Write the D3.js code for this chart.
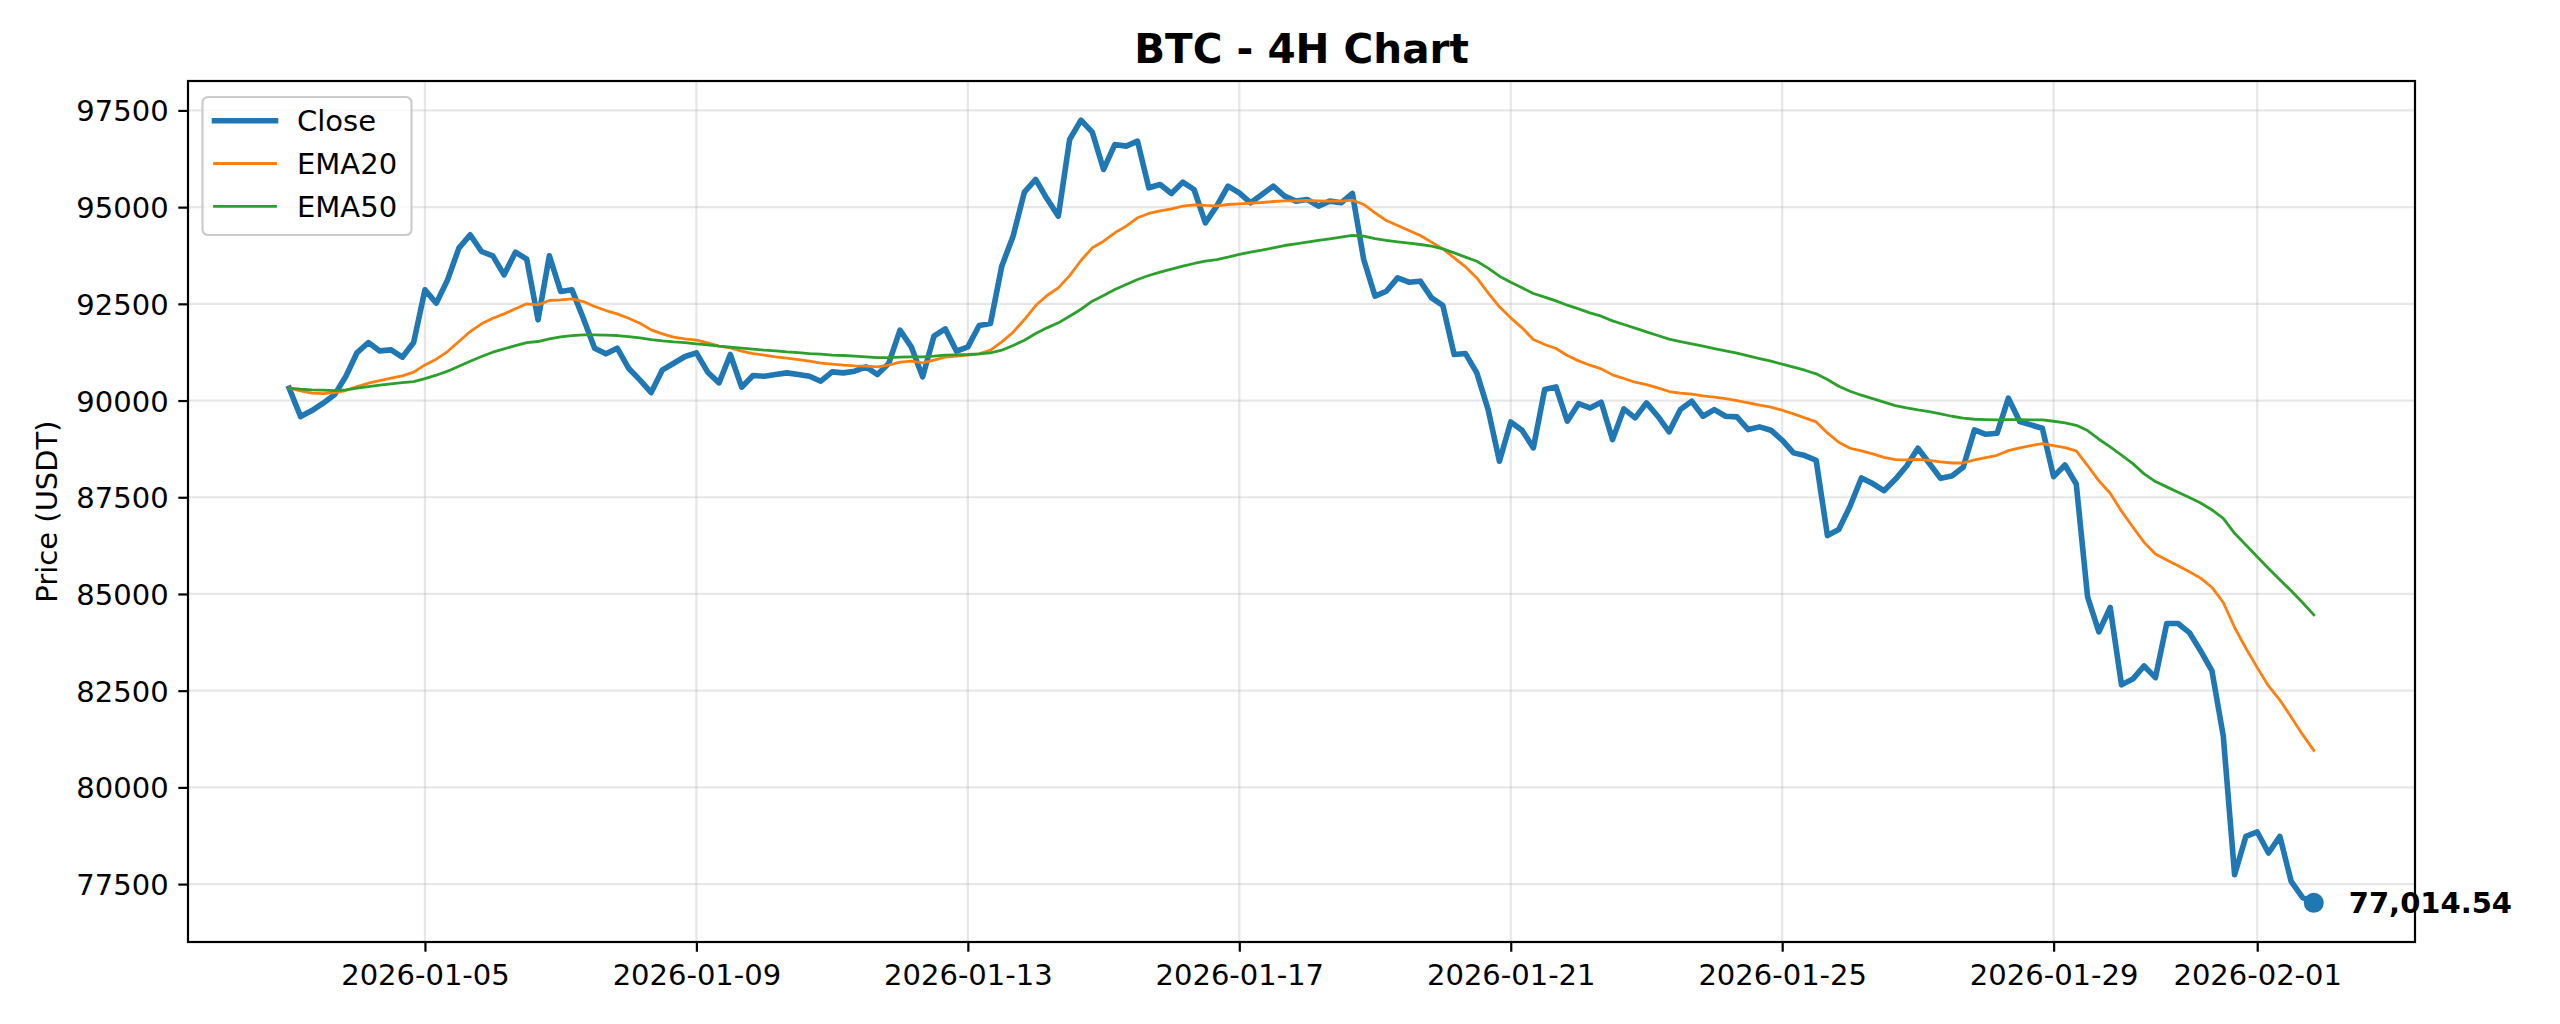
<!DOCTYPE html>
<html>
<head>
<meta charset="utf-8">
<script src="https://cdn.jsdelivr.net/npm/d3@7"></script>
<style>
  html, body { margin: 0; padding: 0; background: #ffffff; }
  svg { display: block; font-family: "DejaVu Sans", sans-serif; }
</style>
</head>
<body>
<div id="chart"></div>
<script>
// ---------------- data ----------------
const chartTitle = "BTC - 4H Chart";
const yLabel = "Price (USDT)";
const startTime = "2026-01-03T00:00:00Z";   // first 4H bar
const barHours = 4;

const closeValues = [
  90319, 89586, 89741, 89931, 90147, 90621, 91241, 91500, 91284, 91310,
  91121, 91500, 92862, 92517, 93120, 93939, 94284, 93853, 93741, 93250,
  93836, 93655, 92086, 93741, 92819, 92862, 92129, 91353, 91207, 91353,
  90836, 90534, 90207, 90793, 90965, 91138, 91233, 90733, 90457, 91190,
  90345, 90647, 90629, 90672, 90715, 90672, 90629, 90500, 90741, 90715,
  90759, 90871, 90672, 90957, 91819, 91388, 90612, 91664, 91853, 91276,
  91388, 91940, 91991, 93474, 94250, 95388, 95715, 95215, 94767, 96749,
  97249, 96939, 95974, 96620, 96577, 96706, 95500, 95586, 95353, 95646,
  95456, 94595, 95025, 95543, 95370, 95112, 95327, 95543, 95284, 95155,
  95198, 95025, 95155, 95112, 95353, 93646, 92698, 92827, 93172, 93060,
  93086, 92655, 92457, 91190, 91215, 90715, 89767, 88431, 89448, 89233,
  88776, 90284, 90353, 89466, 89922, 89810, 89957, 88991, 89784, 89552,
  89940, 89595, 89190, 89767, 89983, 89595, 89767, 89595, 89578, 89250,
  89319, 89233, 88974, 88647, 88578, 88457, 86509, 86664, 87267, 88000,
  87854, 87670, 87963, 88308, 88766, 88378, 87989, 88050, 88274, 89241,
  89128, 89154, 90060, 89456, 89370, 89284, 88032, 88334, 87842, 84926,
  84020, 84650, 82650, 82800, 83139, 82837, 84236, 84236, 84002, 83527,
  83009, 81325, 77741, 78734, 78847, 78303, 78734, 77569, 77154, 77014.54
];

const ema20Values = [
  90319, 90249, 90190, 90181, 90207, 90259, 90362, 90448, 90517, 90578,
  90638, 90733, 90922, 91069, 91267, 91526, 91784, 91983, 92129, 92241,
  92371, 92500, 92474, 92586, 92603, 92629, 92560, 92431, 92327, 92241,
  92129, 92000, 91827, 91724, 91638, 91595, 91560, 91491, 91405, 91362,
  91276, 91215, 91172, 91129, 91095, 91060, 91017, 90965, 90940, 90914,
  90896, 90888, 90871, 90914, 90991, 91017, 90974, 91043, 91121, 91147,
  91172, 91207, 91302, 91517, 91767, 92095, 92457, 92715, 92914, 93230,
  93620, 93948, 94120, 94336, 94508, 94724, 94836, 94905, 94957, 95025,
  95060, 95043, 95034, 95068, 95086, 95103, 95120, 95146, 95163, 95163,
  95172, 95163, 95155, 95155, 95181, 95069, 94853, 94655, 94526, 94396,
  94267, 94095, 93922, 93689, 93457, 93170, 92784, 92422, 92138, 91879,
  91577, 91448, 91345, 91164, 91026, 90914, 90819, 90664, 90569, 90474,
  90414, 90328, 90233, 90190, 90164, 90121, 90086, 90052, 90000, 89940,
  89879, 89828, 89750, 89655, 89552, 89448, 89164, 88922, 88767, 88698,
  88621, 88530, 88472, 88464, 88481, 88455, 88412, 88386, 88386, 88464,
  88524, 88585, 88706, 88775, 88835, 88887, 88835, 88783, 88697, 88320,
  87925, 87605, 87140, 86730, 86334, 86032, 85876, 85730, 85574, 85410,
  85168, 84780, 84132, 83597, 83096, 82621, 82258, 81818, 81369, 80954
];

const ema50Values = [
  90319, 90293, 90276, 90267, 90259, 90276, 90319, 90362, 90397, 90431,
  90465, 90491, 90569, 90655, 90759, 90888, 91017, 91138, 91250, 91336,
  91422, 91500, 91526, 91595, 91646, 91681, 91698, 91698, 91690, 91681,
  91655, 91621, 91577, 91543, 91517, 91500, 91465, 91440, 91405, 91379,
  91353, 91327, 91302, 91284, 91259, 91241, 91215, 91198, 91172, 91164,
  91147, 91129, 91112, 91112, 91121, 91129, 91129, 91147, 91172, 91181,
  91190, 91207, 91233, 91302, 91422, 91560, 91733, 91879, 92009, 92181,
  92360, 92569, 92715, 92870, 93000, 93129, 93233, 93319, 93396, 93474,
  93543, 93603, 93646, 93707, 93776, 93836, 93888, 93948, 94008, 94051,
  94095, 94138, 94181, 94224, 94267, 94250, 94189, 94138, 94103, 94069,
  94034, 93991, 93922, 93819, 93707, 93600, 93422, 93215, 93060, 92914,
  92767, 92672, 92577, 92465, 92370, 92267, 92181, 92060, 91965, 91871,
  91776, 91681, 91586, 91526, 91465, 91405, 91345, 91284, 91224, 91155,
  91086, 91017, 90940, 90862, 90784, 90690, 90543, 90371, 90241, 90138,
  90052, 89960, 89871, 89810, 89758, 89715, 89655, 89594, 89543, 89517,
  89508, 89500, 89508, 89508, 89500, 89500, 89465, 89422, 89361, 89223,
  89000, 88800, 88590, 88370, 88105, 87906, 87768, 87630, 87491, 87353,
  87172, 86956, 86567, 86265, 85963, 85660, 85367, 85082, 84780, 84460
];

const seriesNames = ["Close", "EMA20", "EMA50"];
const xTickLabels = ["2026-01-05", "2026-01-09", "2026-01-13", "2026-01-17",
                     "2026-01-21", "2026-01-25", "2026-01-29", "2026-02-01"];
const yTickValues = [77500, 80000, 82500, 85000, 87500, 90000, 92500, 95000, 97500];

// ---------------- layout ----------------
const W = 2560, H = 1024;
const plot = { left: 188, top: 81, right: 2415, bottom: 942 };
const colors = { Close: "#1f77b4", EMA20: "#ff7f0e", EMA50: "#2ca02c" };
const widths = { Close: 5.6, EMA20: 2.8, EMA50: 2.8 };
const fontPx = 29;

const t0 = new Date(startTime).getTime();
const times = closeValues.map((_, i) => new Date(t0 + i * barHours * 3600 * 1000));
const rows = closeValues.map((c, i) => ({ t: times[i], Close: c, EMA20: ema20Values[i], EMA50: ema50Values[i] }));

// matplotlib-like 5% margins
const tExt = d3.extent(times);
const tPad = (tExt[1] - tExt[0]) * 0.05;
const allVals = closeValues.concat(ema20Values, ema50Values);
const vExt = d3.extent(allVals);
const vPad = (vExt[1] - vExt[0]) * 0.05;

const x = d3.scaleUtc()
  .domain([new Date(tExt[0].getTime() - tPad), new Date(tExt[1].getTime() + tPad)])
  .range([plot.left, plot.right]);
const y = d3.scaleLinear()
  .domain([vExt[0] - vPad, vExt[1] + vPad])
  .range([plot.bottom, plot.top]);

const svg = d3.select("#chart").append("svg")
  .attr("width", W).attr("height", H)
  .attr("viewBox", `0 0 ${W} ${H}`);
svg.append("rect").attr("width", W).attr("height", H).attr("fill", "#ffffff");

const xTickDates = xTickLabels.map(s => new Date(s + "T00:00:00Z"));

// grid
const grid = svg.append("g");
grid.selectAll("line.gx").data(xTickDates).join("line")
  .attr("x1", d => x(d)).attr("x2", d => x(d))
  .attr("y1", plot.top).attr("y2", plot.bottom)
  .attr("stroke", "#b0b0b0").attr("stroke-opacity", 0.3).attr("stroke-width", 2.2);
grid.selectAll("line.gy").data(yTickValues).join("line")
  .attr("x1", plot.left).attr("x2", plot.right)
  .attr("y1", d => y(d)).attr("y2", d => y(d))
  .attr("stroke", "#b0b0b0").attr("stroke-opacity", 0.3).attr("stroke-width", 2.2);

// lines
const order = ["Close", "EMA20", "EMA50"];
order.forEach(name => {
  const line = d3.line().x(d => x(d.t)).y(d => y(d[name]));
  svg.append("path").datum(rows)
    .attr("d", line)
    .attr("fill", "none")
    .attr("stroke", colors[name])
    .attr("stroke-width", widths[name])
    .attr("stroke-linejoin", "round")
    .attr("stroke-linecap", "square");
});

// last point marker + annotation
const last = rows[rows.length - 1];
svg.append("circle")
  .attr("cx", x(last.t)).attr("cy", y(last.Close)).attr("r", 10)
  .attr("fill", colors.Close);
svg.append("text")
  .attr("x", x(last.t) + 35).attr("y", y(last.Close) + 10.5)
  .attr("font-size", fontPx).attr("font-weight", "bold").attr("fill", "#000")
  .text(d3.format(",.2f")(last.Close));

// axes
const xAxis = d3.axisBottom(x).tickValues(xTickDates)
  .tickFormat(d3.utcFormat("%Y-%m-%d")).tickSize(9.7).tickPadding(9.7);
const gx = svg.append("g").attr("transform", `translate(0,${plot.bottom})`).call(xAxis);
const yAxis = d3.axisLeft(y).tickValues(yTickValues)
  .tickFormat(d3.format("d")).tickSize(9.7).tickPadding(9.7);
const gy = svg.append("g").attr("transform", `translate(${plot.left},0)`).call(yAxis);
[gx, gy].forEach(g => {
  g.select(".domain").remove();
  g.selectAll(".tick line").attr("stroke", "#000").attr("stroke-width", 2.2);
  g.selectAll(".tick text").attr("font-size", fontPx)
    .attr("font-family", "DejaVu Sans").attr("fill", "#000");
});
gx.selectAll(".tick text").attr("dy", null).attr("y", 43);
gy.selectAll(".tick text").attr("dy", null).attr("y", 10.5);

// frame
svg.append("rect")
  .attr("x", plot.left).attr("y", plot.top)
  .attr("width", plot.right - plot.left).attr("height", plot.bottom - plot.top)
  .attr("fill", "none").attr("stroke", "#000").attr("stroke-width", 2.2);

// title & y label
svg.append("text")
  .attr("x", (plot.left + plot.right) / 2).attr("y", 62.5)
  .attr("text-anchor", "middle").attr("font-size", 40.5).attr("font-weight", "bold")
  .text(chartTitle);
svg.append("text")
  .attr("transform", `translate(57,${(plot.top + plot.bottom) / 2}) rotate(-90)`)
  .attr("text-anchor", "middle").attr("font-size", fontPx)
  .text(yLabel);

// legend
const lg = svg.append("g");
lg.append("rect")
  .attr("x", 202.5).attr("y", 97).attr("width", 209).attr("height", 138)
  .attr("rx", 5.5).attr("ry", 5.5)
  .attr("fill", "#ffffff").attr("fill-opacity", 0.8)
  .attr("stroke", "#cccccc").attr("stroke-width", 2.2);
const legendY = [120.7, 163.5, 206.3];
seriesNames.forEach((name, i) => {
  lg.append("line")
    .attr("x1", 214.5).attr("x2", 275.5)
    .attr("y1", legendY[i]).attr("y2", legendY[i])
    .attr("stroke", colors[name]).attr("stroke-width", widths[name])
    .attr("stroke-linecap", "square");
  lg.append("text")
    .attr("x", 297).attr("y", legendY[i] + 10.3)
    .attr("font-size", fontPx).attr("fill", "#000")
    .text(name);
});
</script>
</body>
</html>
